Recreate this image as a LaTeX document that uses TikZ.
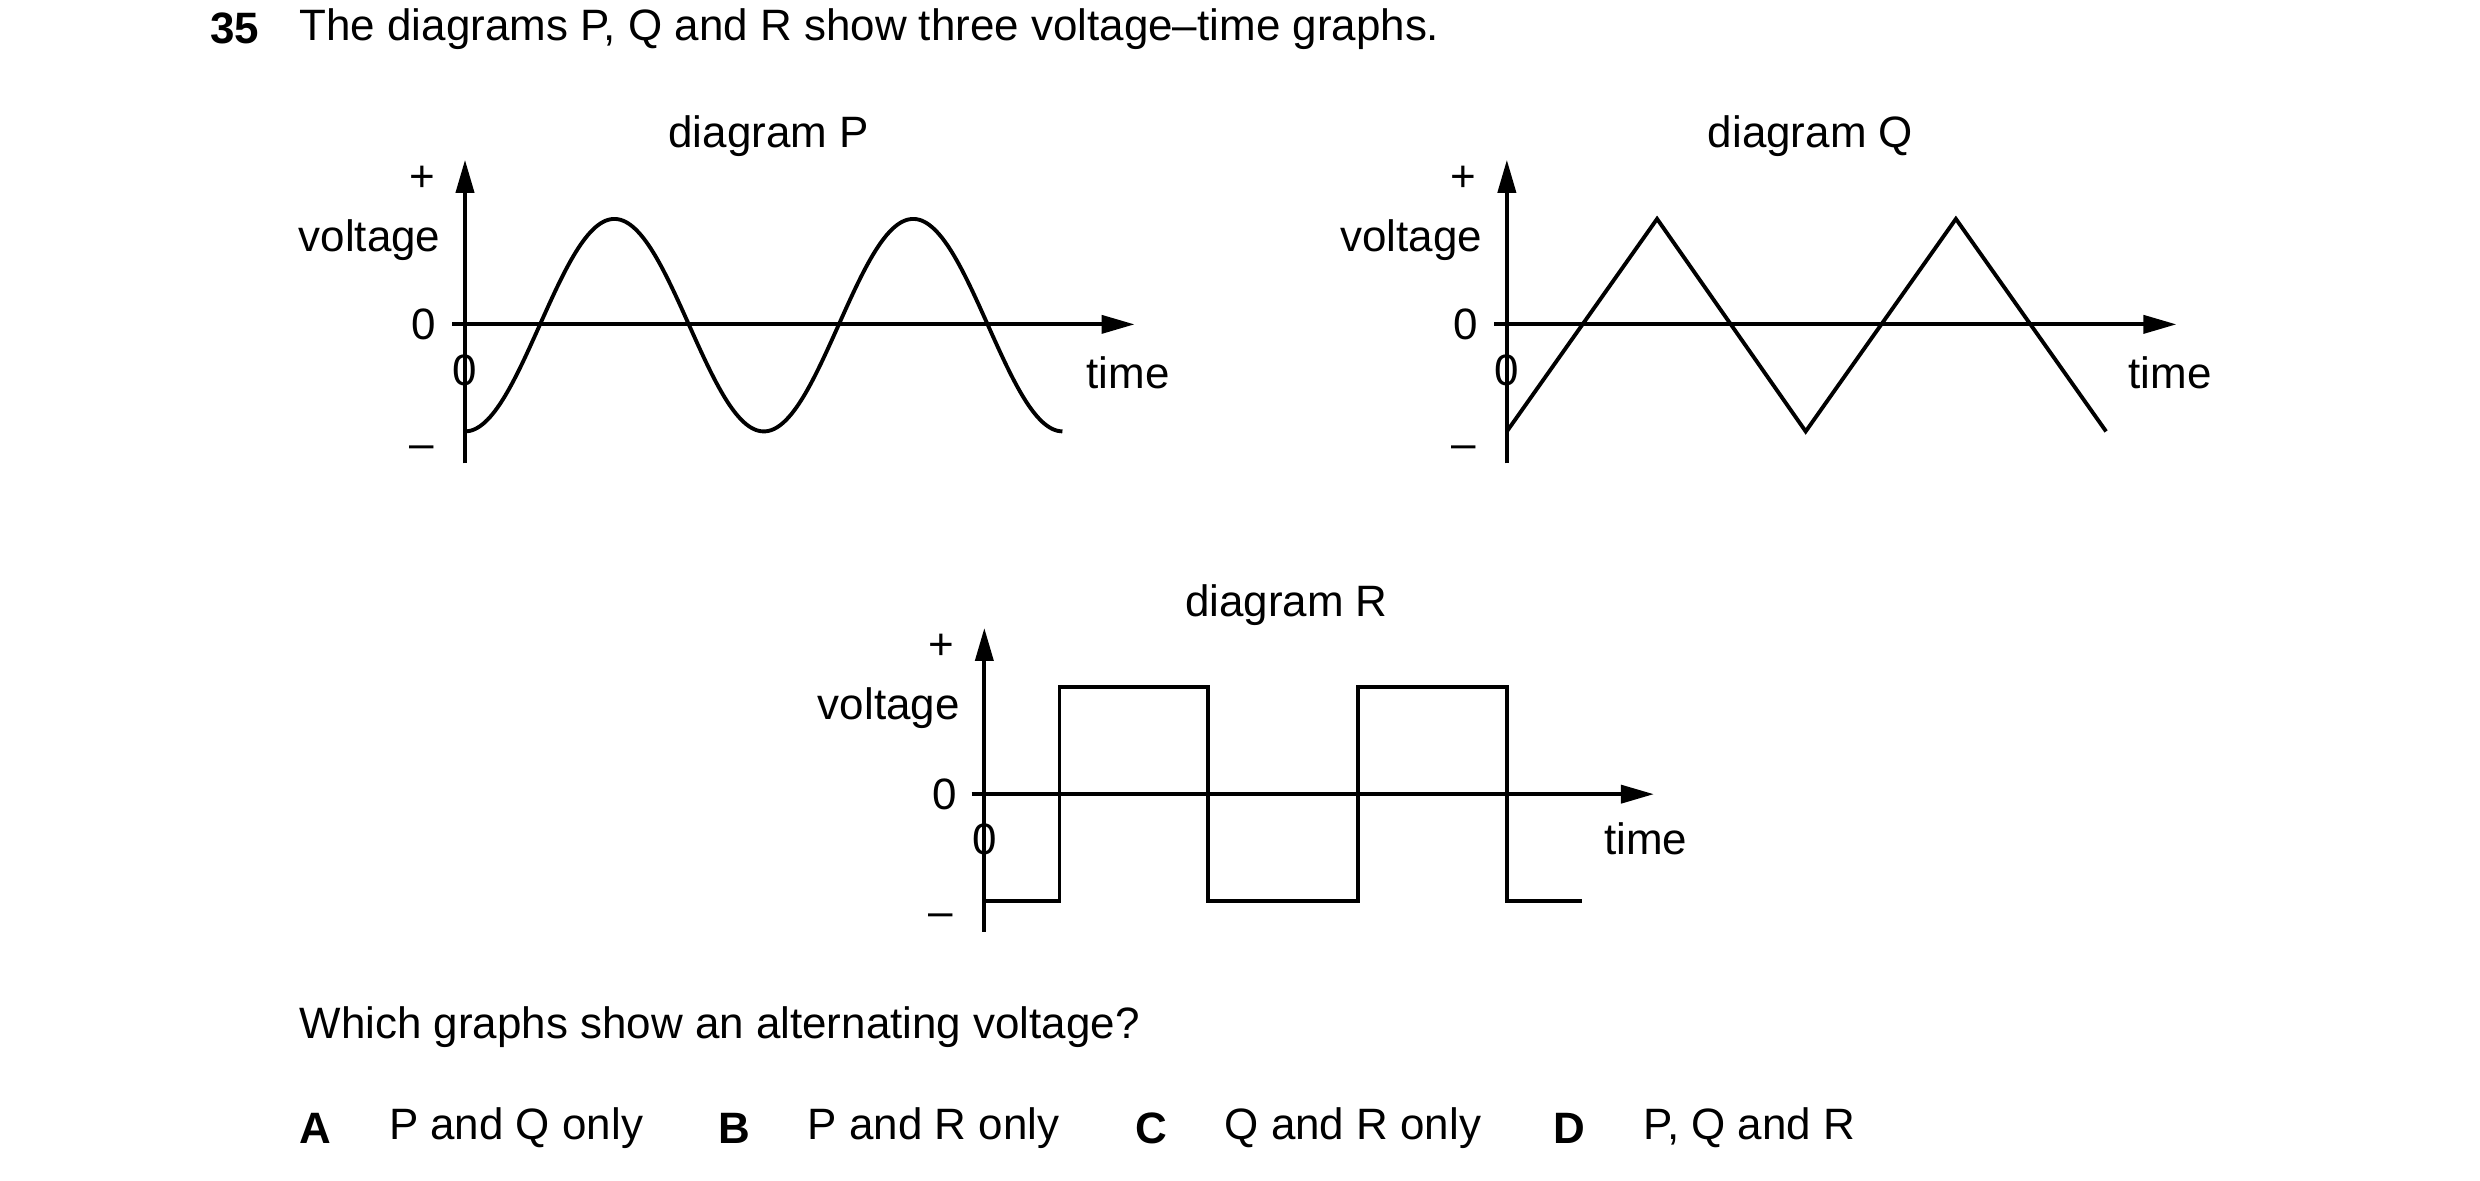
\documentclass[tikz,border=0pt]{standalone}
\usepackage{fontspec}
\setmainfont{Liberation Sans}
\usetikzlibrary{arrows.meta}
\begin{document}
\begin{tikzpicture}[x=0.01598cm,y=-0.01598cm,
  every node/.style={font=\fontsize{12.5}{15}\selectfont,inner sep=0pt},
  ax/.style={line width=1.1pt,-{Triangle[length=0.33cm,width=0.18cm]}},
  ln/.style={line width=1.1pt,line join=miter}]
\useasboundingbox (0,0) rectangle (1552,739);
\node[anchor=west] (num) at (131,18) {\textbf{35}};
\node[anchor=west] (title) at (187,18) {The diagrams P, Q and R show three voltage–time graphs.};
% P and Q
\foreach \dx/\lab in {0/P,652/Q}{
\begin{scope}[xshift=\dx*0.01598cm]
\draw[ax] (291,290) -- (291,100);
\draw[ax] (283,203) -- (710,203);
\node (l0) at (265,203) {0};
\node (b0) at (291,232) {0};
\node (pl) at (264,112) {+};
\node (mi) at (264,283) {–};
\node[anchor=east] (v) at (276,150) {voltage};
\node (t) at (706,233) {time};
\node (d) at (481,85) {diagram \lab};
\end{scope}}
\draw[ln] plot[domain=0:2,samples=120,smooth] ({291+187*\x},{203.5+66.5*cos(\x*360)});
\draw[ln] (943,270) -- (1037,137) -- (1130,270) -- (1224,137) -- (1318,270);
% R
\draw[ax] (616,583) -- (616,393);
\draw[ax] (608,497) -- (1035,497);
\node (rl0) at (591,497) {0};
\node (rb0) at (616,525) {0};
\node (rpl) at (589,405) {+};
\node (rmi) at (589,576) {–};
\node[anchor=east] (rv) at (601,443) {voltage};
\node (rt) at (1030,525) {time};
\node (rd) at (805,379) {diagram R};
\draw[ln] (616,564) -- (663,564) -- (663,430) -- (756,430) -- (756,564) -- (850,564) -- (850,430) -- (943,430) -- (943,564) -- (990,564);
\node[anchor=west] (q) at (187,643) {Which graphs show an alternating voltage?};
\node[anchor=west] (A) at (187,706) {\textbf{A}};
\node[anchor=west] (At) at (243,706) {P and Q only};
\node[anchor=west] (B) at (449,706) {\textbf{B}};
\node[anchor=west] (Bt) at (505,706) {P and R only};
\node[anchor=west] (C) at (710,706) {\textbf{C}};
\node[anchor=west] (Ct) at (766,706) {Q and R only};
\node[anchor=west] (D) at (972,706) {\textbf{D}};
\node[anchor=west] (Dt) at (1028,706) {P, Q and R};
\end{tikzpicture}
\end{document}
